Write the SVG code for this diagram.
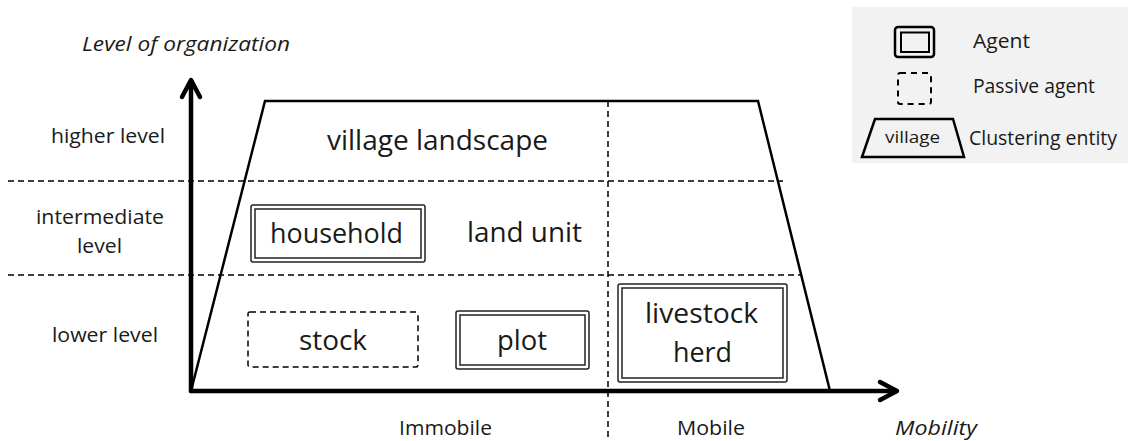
<svg xmlns="http://www.w3.org/2000/svg" width="1130" height="441" viewBox="0 0 1130 441">
<style>
text{font-family:"Open Sans","Noto Sans",sans-serif;fill:#1a1a1a}
.big{font-size:28px}
.sm{font-size:20px}
.it{font-style:italic}
.dash{stroke:#000;stroke-width:1.5;stroke-dasharray:6 4;fill:none}
.axis{stroke:#000;stroke-width:4.5;fill:none;stroke-linecap:round;stroke-linejoin:round}
.trap{stroke:#000;stroke-width:2.5;fill:none;stroke-linejoin:miter}
.dbl{fill:none;stroke:#222;stroke-width:1.5}
</style>
<rect width="1130" height="441" fill="#fff"/>

<g id="legend">
<rect x="852" y="7" width="276" height="156" fill="#f2f2f2"/>
<rect x="895" y="27" width="39" height="30" rx="3" fill="none" stroke="#000" stroke-width="2.5"/>
<rect x="901" y="32.5" width="28" height="19.5" fill="none" stroke="#000" stroke-width="2"/>
<text class="sm" x="973" y="48" textLength="57" lengthAdjust="spacingAndGlyphs">Agent</text>
<rect x="898" y="73" width="33" height="31" rx="2" fill="none" stroke="#000" stroke-width="2" stroke-dasharray="6 5"/>
<text class="sm" x="973" y="93" textLength="122" lengthAdjust="spacingAndGlyphs">Passive agent</text>
<polygon points="862,157 875,119 953,119 964,157" fill="none" stroke="#000" stroke-width="2.5"/>
<text x="885" y="143" style="font-size:17px" textLength="55" lengthAdjust="spacingAndGlyphs">village</text>
<text class="sm" x="969" y="145" textLength="148" lengthAdjust="spacingAndGlyphs">Clustering entity</text>
</g>

<g id="grid">
<line class="dash" x1="8" y1="181" x2="783" y2="181"/>
<line class="dash" x1="8" y1="275" x2="802" y2="275"/>
<line class="dash" x1="608" y1="101" x2="608" y2="441"/>
</g>

<g id="axes">
<line class="axis" x1="191" y1="391" x2="191" y2="81"/>
<polyline class="axis" points="182,97 191,80 200,97"/>
<line class="axis" x1="191" y1="391" x2="896" y2="391"/>
<polyline class="axis" points="880,382 897,391 880,400"/>
<text class="sm it" x="82" y="51" textLength="208" lengthAdjust="spacingAndGlyphs">Level of organization</text>
<text class="sm it" x="895" y="435" textLength="82" lengthAdjust="spacingAndGlyphs">Mobility</text>
<text class="sm" x="399" y="435" textLength="93" lengthAdjust="spacingAndGlyphs">Immobile</text>
<text class="sm" x="677" y="435" textLength="68" lengthAdjust="spacingAndGlyphs">Mobile</text>
<text class="sm" x="51" y="143" textLength="114" lengthAdjust="spacingAndGlyphs">higher level</text>
<text class="sm" x="36" y="224" textLength="128" lengthAdjust="spacingAndGlyphs">intermediate</text>
<text class="sm" x="77" y="253" textLength="45" lengthAdjust="spacingAndGlyphs">level</text>
<text class="sm" x="52" y="342" textLength="106" lengthAdjust="spacingAndGlyphs">lower level</text>
</g>

<g id="village-landscape">
<polygon class="trap" points="191,391 265,101 758,101 830,391"/>
<text class="big" x="327" y="150" textLength="221" lengthAdjust="spacingAndGlyphs">village landscape</text>
</g>

<g id="household">
<rect class="dbl" x="251" y="205" width="174" height="57" rx="2"/>
<rect class="dbl" x="255" y="209" width="166" height="49"/>
<text class="big" x="270" y="243" textLength="133" lengthAdjust="spacingAndGlyphs">household</text>
</g>

<g id="land-unit">
<text class="big" x="467" y="242" textLength="115" lengthAdjust="spacingAndGlyphs">land unit</text>
</g>

<g id="stock">
<rect x="248" y="312" width="170" height="55" rx="2" fill="none" stroke="#000" stroke-width="1.5" stroke-dasharray="6 4"/>
<text class="big" x="299" y="350" textLength="68" lengthAdjust="spacingAndGlyphs">stock</text>
</g>

<g id="plot">
<rect class="dbl" x="456" y="311" width="133" height="58" rx="2" stroke="#555"/>
<rect class="dbl" x="460" y="315" width="125" height="50"/>
<text class="big" x="497" y="350" textLength="50" lengthAdjust="spacingAndGlyphs">plot</text>
</g>

<g id="livestock-herd">
<rect class="dbl" x="618" y="284" width="169" height="98" rx="2" stroke="#555"/>
<rect class="dbl" x="622" y="288" width="161" height="90"/>
<text class="big" x="645" y="323" textLength="113" lengthAdjust="spacingAndGlyphs">livestock</text>
<text class="big" x="673" y="362" textLength="59" lengthAdjust="spacingAndGlyphs">herd</text>
</g>
</svg>
